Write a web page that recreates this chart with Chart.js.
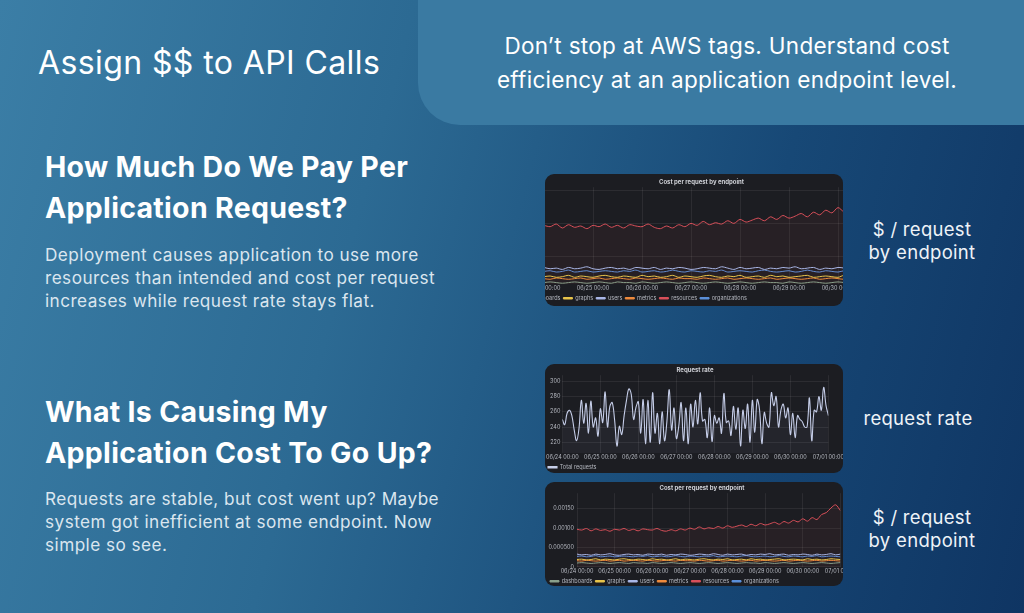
<!DOCTYPE html>
<html>
<head>
<meta charset="utf-8">
<script src="https://cdn.jsdelivr.net/npm/chart.js@4/dist/chart.umd.min.js"></script>
<style>
  html, body { margin: 0; padding: 0; }
  body {
    width: 1024px; height: 613px; overflow: hidden; position: relative;
    font-family: Inter, "Open Sans", sans-serif; color: #fff;
    background: linear-gradient(105deg, #3b7ea6 0%, #2c6a93 35%, #174876 70%, #0f3563 100%);
  }
  .top-panel {
    position: absolute; left: 418px; top: 0; width: 606px; height: 125px;
    background: #3a7aa2; border-bottom-left-radius: 42px;
  }
  .abs { position: absolute; }
  .title { left: 38px; top: 43px; font-size: 32px; font-weight: 400; letter-spacing: 0.4px; }
  .sub { left: 418px; width: 618px; top: 29px; text-align: center; font-size: 22.5px; line-height: 34px; letter-spacing: 0.3px; }
  h2 { margin: 0; font-size: 28.5px; font-weight: 700; line-height: 41px; letter-spacing: 0.3px; }
  p { margin: 0; font-size: 17.2px; line-height: 23px; color: #dbe6ef; letter-spacing: 0.45px; }
  .side { font-size: 18.5px; line-height: 23px; text-align: center; color: #eef3f8; letter-spacing: 0.3px; }
  .panel {
    position: absolute; left: 545px; width: 298px; background: #1c1d22;
    border-radius: 9px; overflow: hidden;
  }
  .panel canvas { position: absolute; }
</style>
</head>
<body>
<div class="top-panel"></div>
<div class="abs title">Assign $$ to API Calls</div>
<div class="abs sub">Don’t stop at AWS tags. Understand cost<br>efficiency at an application endpoint level.</div>

<div class="abs" style="left:45px;top:146px"><h2>How Much Do We Pay Per<br>Application Request?</h2></div>
<div class="abs" style="left:45px;top:243px"><p>Deployment causes application to use more<br>resources than intended and cost per request<br>increases while request rate stays flat.</p></div>

<div class="abs" style="left:45px;top:391px"><h2>What Is Causing My<br>Application Cost To Go Up?</h2></div>
<div class="abs" style="left:45px;top:487px"><p>Requests are stable, but cost went up? Maybe<br>system got inefficient at some endpoint. Now<br>simple so see.</p></div>

<div class="abs side" style="left:862px;top:218px;width:120px">$ / request<br>by endpoint</div>
<div class="abs side" style="left:858px;top:407px;width:120px">request rate</div>
<div class="abs side" style="left:862px;top:506px;width:120px">$ / request<br>by endpoint</div>

<div class="panel" style="top:174px;height:132px">
  <canvas id="c1" width="373" height="137" style="left:-30px;top:0"></canvas>
</div>
<div class="panel" style="top:364px;height:109px">
  <canvas id="c2" width="300" height="116" style="left:0;top:0"></canvas>
</div>
<div class="panel" style="top:482px;height:104px">
  <canvas id="c3" width="312" height="112" style="left:0;top:0"></canvas>
</div>

<script>
// ── Datos ────────────────────────────────────────────────────────────────
var dayLabels = ['06/24 00:00', '06/25 00:00', '06/26 00:00', '06/27 00:00',
                 '06/28 00:00', '06/29 00:00', '06/30 00:00', '07/01 00:00'];
var endpoints = ['dashboards', 'graphs', 'users', 'metrics', 'resources', 'organizations'];
var endpointColors = ['#8aa08a', '#e8c44a', '#a9b6e6', '#ef8a3c', '#d9505a', '#5b8fd9'];

// cost per request (x 1e-5 $)
var costDashboards = [10,11,10,9,10,11,10,9,10,11,10,9,11,10,10,9,11,10,9,10,11,10,9,10,11,10,9,10,11,10,9,10,11,10,9,10,11,10,10,9,11,10,9,10,11,10,9,10,11,10,9,10,11,10,9,10,11];
var costGraphs = [19,20,18,19,21,18,20,19,18,20,21,19,18,20,19,18,21,19,20,18,19,21,18,20,19,18,20,21,19,18,20,19,21,18,19,20,18,21,19,20,18,19,20,21,18,19,20,19,18,21,19,20,18,19,21,20,19];
var costUsers = [33,31,32,30,33,31,32,34,31,30,32,33,31,32,30,33,32,31,33,30,32,31,33,32,30,31,33,32,31,34,32,30,33,31,32,33,30,32,31,33,32,34,31,32,33,30,32,31,33,32,30,33,31,32,34,31,33];
var costMetrics = [16,15,17,16,15,16,17,15,16,17,15,16,17,16,15,17,16,15,16,17,16,15,17,16,16,15,17,16,15,16,17,15,16,17,16,15,16,17,15,16,17,16,15,16,17,15,16,17,16,15,16,17,15,16,17,16,15];
var costResources = [97,95,99,93,98,94,96,92,97,95,99,94,97,93,98,96,95,99,94,92,96,93,98,95,100,97,103,98,101,99,104,100,106,102,105,108,104,110,106,112,108,111,115,110,117,113,120,116,124,118,127,122,135,140,152,160,145];
var costOrgs = [27,28,26,27,29,26,27,28,26,27,28,27,26,28,27,29,26,27,28,26,27,29,27,26,28,27,26,28,27,29,26,27,28,27,26,28,29,27,26,27,28,26,27,29,27,26,28,27,26,28,27,29,26,27,28,27,26];
var costSeries = [costDashboards, costGraphs, costUsers, costMetrics, costResources, costOrgs];

var requestRate = [250,243,258,262,255,236,222,238,275,245,271,232,274,240,252,228,264,246,286,240,
  267,272,249,215,241,230,255,275,290,283,250,266,273,232,276,218,275,220,285,232,
  258,218,260,222,247,289,236,265,225,241,272,222,265,218,270,240,275,244,285,248,
  250,226,265,221,255,245,252,232,284,246,248,229,267,237,265,215,262,238,270,220,
  275,233,276,263,218,259,245,240,285,268,280,240,262,270,252,265,230,258,226,255,
  250,247,240,240,278,222,262,260,280,262,292,268,255];
var rateTicks = [220, 240, 260, 280, 300];
var costTicks = [0, 0.0005, 0.001, 0.0015];

// ── Helpers ──────────────────────────────────────────────────────────────
function pts(arr, scale) {
    var step = (dayLabels.length - 1) / (arr.length - 1);
    return arr.map(function (v, i) { return { x: i * step, y: v * scale }; });
}
var tickFont = { size: 5.5, family: 'Inter' };
var gridCol = 'rgba(255,255,255,0.07)';

function xAxis(hideLast) {
    return {
        type: 'linear', min: 0, max: dayLabels.length - 1,
        grid: { color: gridCol, drawTicks: false }, border: { display: false },
        ticks: { stepSize: 1, color: '#b5b8c0', font: tickFont, padding: 1, maxRotation: 0, autoSkip: false,
                 callback: function (v) { return (hideLast && v === dayLabels.length - 1) ? '' : (dayLabels[v] || ''); } }
    };
}
function legendOpts() {
    return {
        position: 'bottom', align: 'start',
        labels: { color: '#b5b8c0', font: tickFont, boxWidth: 9, boxHeight: 1.5, padding: 3 }
    };
}
function titleOpts(t) {
    return { display: true, text: t, color: '#d0d2d8', font: { size: 6, weight: 'bold', family: 'Inter' }, padding: { top: 3, bottom: 1 } };
}
function fixTicks(list) {
    return function (ax) { ax.ticks = list.map(function (v) { return { value: v }; }); };
}

// ── Coste por request (panel superior, recortado) ─────────────────────────
new Chart(document.getElementById('c1'), {
    type: 'line',
    data: {
        datasets: endpoints.map(function (name, k) {
            return {
                label: name, data: pts(costSeries[k], 1e-5),
                borderColor: endpointColors[k], backgroundColor: endpointColors[k],
                borderWidth: 1, pointRadius: 0, tension: 0.3,
                fill: k === 4 ? { target: 'origin', above: 'rgba(217,80,90,0.06)' } : false
            };
        })
    },
    options: {
        responsive: false, animation: false,
        layout: { padding: { left: 0, right: 0, bottom: 0, top: 2 } },
        plugins: { title: titleOpts('Cost per request by endpoint'), legend: legendOpts(), tooltip: { enabled: false } },
        scales: {
            x: xAxis(true),
            y: {
                min: 0.00008, max: 0.00155,
                afterBuildTicks: fixTicks(costTicks.slice(1)),
                afterFit: function (ax) { ax.width = 29; },
                grid: { color: gridCol, drawTicks: false }, border: { display: false },
                ticks: { display: false }
            }
        }
    }
});

// ── Request rate ─────────────────────────────────────────────────────────
new Chart(document.getElementById('c2'), {
    type: 'line',
    data: {
        datasets: [{
            label: 'Total requests', data: pts(requestRate, 1),
            borderColor: '#c5cde8', backgroundColor: '#c5cde8',
            borderWidth: 1.1, pointRadius: 0, tension: 0.4,
            fill: { target: 'origin', above: 'rgba(197,205,232,0.05)' }
        }]
    },
    options: {
        responsive: false, animation: false,
        layout: { padding: 0 },
        plugins: { title: titleOpts('Request rate'), legend: legendOpts(), tooltip: { enabled: false } },
        scales: {
            x: xAxis(false),
            y: {
                min: 206, max: 308,
                afterBuildTicks: fixTicks(rateTicks),
                grid: { color: gridCol, drawTicks: false }, border: { display: false },
                ticks: { color: '#b5b8c0', font: tickFont, padding: 2 }
            }
        }
    }
});

// ── Coste por request (panel inferior) ───────────────────────────────────
new Chart(document.getElementById('c3'), {
    type: 'line',
    data: {
        datasets: endpoints.map(function (name, k) {
            return {
                label: name, data: pts(costSeries[k], 1e-5),
                borderColor: endpointColors[k], backgroundColor: endpointColors[k],
                borderWidth: 1, pointRadius: 0, tension: 0.3,
                fill: k === 4 ? { target: 'origin', above: 'rgba(217,80,90,0.06)' } : false
            };
        })
    },
    options: {
        responsive: false, animation: false,
        layout: { padding: { left: 2, right: 0, bottom: 0 } },
        plugins: { title: titleOpts('Cost per request by endpoint'), legend: legendOpts(), tooltip: { enabled: false } },
        scales: {
            x: xAxis(false),
            y: {
                min: 0, max: 0.0019,
                afterBuildTicks: fixTicks(costTicks),
                afterFit: function (ax) { ax.width = 30; },
                grid: { color: gridCol, drawTicks: false }, border: { display: false },
                ticks: { color: '#b5b8c0', font: tickFont, padding: 3,
                         callback: function (v) { return v === 0 ? '0' : v === 0.0005 ? '0.000500' : v.toFixed(5); } }
            }
        }
    }
});
</script>
</body>
</html>
